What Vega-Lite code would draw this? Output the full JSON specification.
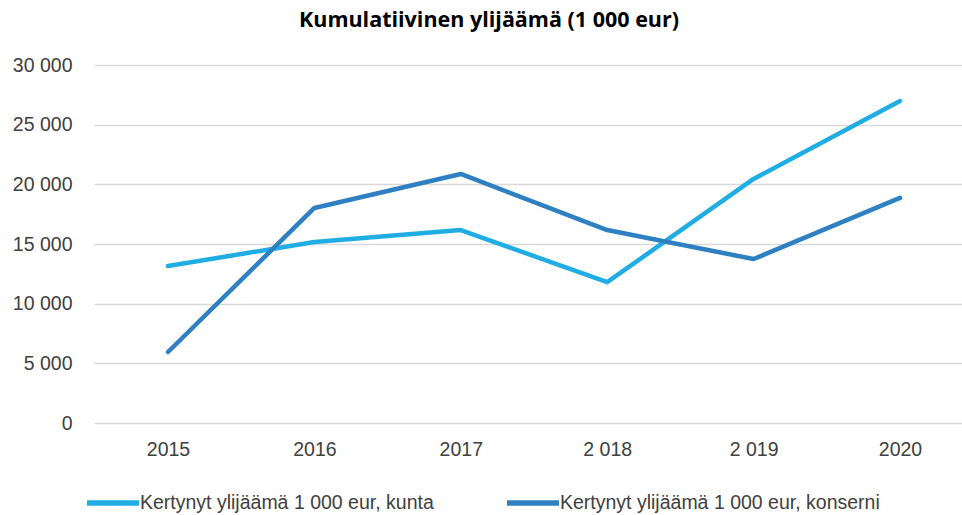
{
  "$schema": "https://vega.github.io/schema/vega-lite/v6.json",
  "width": 868,
  "height": 358,
  "autosize": {"type": "none"},
  "padding": {"left": 94, "top": 65, "right": 0, "bottom": 92},
  "background": "white",
  "view": {"stroke": null},
  "title": {
    "text": "Kumulatiivinen ylijäämä (1 000 eur)",
    "font": "Open Sans",
    "fontSize": 21.5,
    "fontWeight": "bold",
    "color": "#000000",
    "anchor": "middle",
    "dx": -39,
    "offset": 24
  },
  "data": {
    "values": [
      {"vuosi": "2015", "sarja": "Kertynyt ylijäämä 1 000 eur, kunta", "arvo": 13150},
      {"vuosi": "2016", "sarja": "Kertynyt ylijäämä 1 000 eur, kunta", "arvo": 15170},
      {"vuosi": "2017", "sarja": "Kertynyt ylijäämä 1 000 eur, kunta", "arvo": 16170},
      {"vuosi": "2 018", "sarja": "Kertynyt ylijäämä 1 000 eur, kunta", "arvo": 11800},
      {"vuosi": "2 019", "sarja": "Kertynyt ylijäämä 1 000 eur, kunta", "arvo": 20450},
      {"vuosi": "2020", "sarja": "Kertynyt ylijäämä 1 000 eur, kunta", "arvo": 26980},
      {"vuosi": "2015", "sarja": "Kertynyt ylijäämä 1 000 eur, konserni", "arvo": 5950},
      {"vuosi": "2016", "sarja": "Kertynyt ylijäämä 1 000 eur, konserni", "arvo": 18020},
      {"vuosi": "2017", "sarja": "Kertynyt ylijäämä 1 000 eur, konserni", "arvo": 20870},
      {"vuosi": "2 018", "sarja": "Kertynyt ylijäämä 1 000 eur, konserni", "arvo": 16170},
      {"vuosi": "2 019", "sarja": "Kertynyt ylijäämä 1 000 eur, konserni", "arvo": 13740},
      {"vuosi": "2020", "sarja": "Kertynyt ylijäämä 1 000 eur, konserni", "arvo": 18860}
    ]
  },
  "mark": {"type": "line", "strokeWidth": 4.5, "strokeCap": "round", "strokeJoin": "round"},
  "encoding": {
    "x": {
      "field": "vuosi",
      "type": "nominal",
      "sort": ["2015", "2016", "2017", "2 018", "2 019", "2020"],
      "scale": {"type": "point", "padding": 0.4645, "align": 0.544},
      "axis": {
        "title": null,
        "domain": false,
        "ticks": false,
        "grid": false,
        "labelAngle": 0,
        "labelFont": "Liberation Sans",
        "labelFontSize": 19.5,
        "labelColor": "#404040",
        "labelPadding": 17
      }
    },
    "y": {
      "field": "arvo",
      "type": "quantitative",
      "scale": {"domain": [0, 30000], "nice": false},
      "axis": {
        "title": null,
        "values": [0, 5000, 10000, 15000, 20000, 25000, 30000],
        "labelExpr": "replace(format(datum.value, ','), ',', ' ')",
        "domain": false,
        "ticks": false,
        "grid": true,
        "gridColor": "#d9d9d9",
        "gridWidth": 1.3,
        "labelFont": "Liberation Sans",
        "labelFontSize": 19.5,
        "labelColor": "#404040",
        "labelPadding": 22
      }
    },
    "color": {
      "field": "sarja",
      "type": "nominal",
      "sort": ["Kertynyt ylijäämä 1 000 eur, kunta", "Kertynyt ylijäämä 1 000 eur, konserni"],
      "scale": {
        "domain": ["Kertynyt ylijäämä 1 000 eur, kunta", "Kertynyt ylijäämä 1 000 eur, konserni"],
        "range": ["#1fade4", "#2e80c3"]
      },
      "legend": {
        "title": null,
        "orient": "none",
        "direction": "horizontal",
        "legendX": -10,
        "legendY": 409,
        "symbolType": "stroke",
        "symbolSize": 2700,
        "symbolStrokeWidth": 5.5,
        "labelFont": "Liberation Sans",
        "labelFontSize": 19.5,
        "labelColor": "#404040",
        "labelOffset": -2,
        "columnPadding": 62,
        "labelLimit": 400
      }
    }
  }
}
